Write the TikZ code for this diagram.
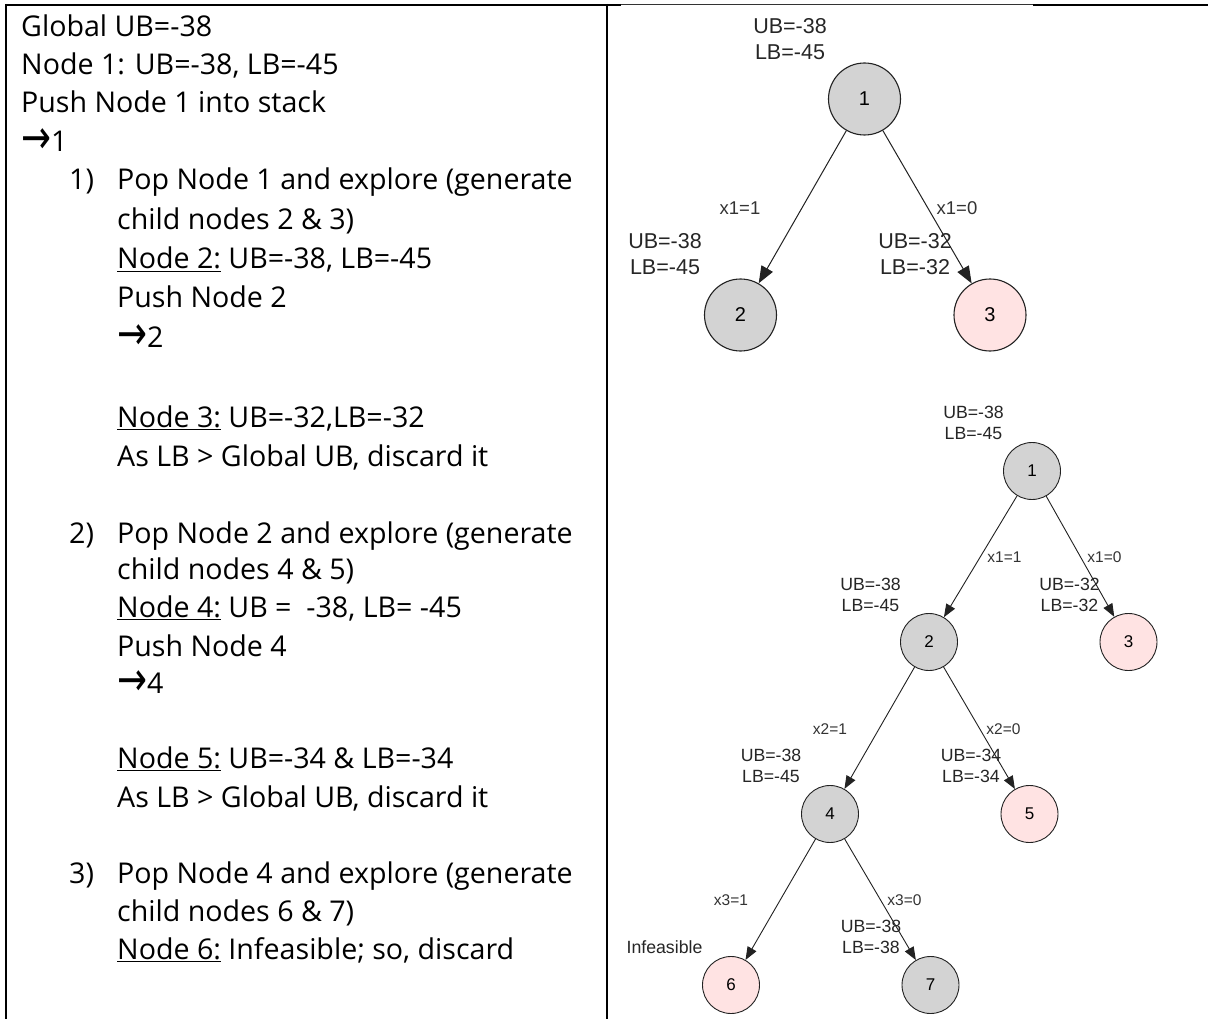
\documentclass[tikz,border=0pt]{standalone}
\usepackage{fontspec}
\setmainfont{Open Sans}
\newfontfamily\arialf{Liberation Sans}
\newfontfamily\symf{DejaVu Sans}
\usetikzlibrary{arrows.meta,shapes.geometric}
\newcommand\undl[1]{\underline{#1}}
\newcommand\arr{\smash{\raisebox{-2.5pt}{\scalebox{1.25}[1.65]{\symf →}}}}
\definecolor{nodegray}{HTML}{D3D3D3}
\definecolor{nodepink}{HTML}{FFE3E3}
\definecolor{edgecol}{HTML}{222222}
\begin{document}
\begin{tikzpicture}[x=1pt,y=-1pt,
  txt/.style={anchor=base west, inner sep=0pt, font=\fontsize{28.6}{34}\selectfont},
  bnode/.style={circle, draw=edgecol, line width=1.1pt, minimum size=72pt, inner sep=0pt, font=\arialf\fontsize{20}{24}\selectfont},
  snode/.style={circle, draw=edgecol, line width=0.9pt, minimum size=57pt, inner sep=0pt, font=\arialf\fontsize{17}{20}\selectfont},
  gray/.style={fill=nodegray},
  pink/.style={fill=nodepink},
  blab/.style={align=center, inner sep=0pt, text=black!85, font=\arialf\fontsize{21.5}{26}\selectfont},
  slab/.style={align=center, inner sep=0pt, text=black!85, font=\arialf\fontsize{17.7}{21}\selectfont},
  bedge/.style={inner sep=0pt, text=black!80, font=\arialf\fontsize{18.5}{22}\selectfont},
  sedge/.style={inner sep=0pt, text=black!80, font=\arialf\fontsize{15.5}{18}\selectfont},
  barrow/.style={draw=edgecol, line width=1pt, -{Triangle[length=17pt,width=13pt]}},
  sarrow/.style={draw=edgecol, line width=0.9pt, -{Triangle[length=13pt,width=10pt]}},
  rule/.style={line width=2pt, black}
]
\useasboundingbox (0,0) rectangle (1208,1019);
\fill[white] (0,0) rectangle (1208,1019);

% table rules
\draw[rule] (6,5) -- (621,5);
\draw[line width=1pt, black!80] (621,4.5) -- (1033,4.5);
\draw[rule] (1033,5) -- (1208,5);
\draw[rule] (6,4) -- (6,1019);
\draw[rule] (607,4) -- (607,1019);

% left column text
\node[txt] (t1) at (21,36.5) {Global UB=-38};
\node[txt] (t2) at (21,75) {Node 1: UB=-38, LB=-45};
\node[txt] (t3) at (21,113) {Push Node 1 into stack};
\node[txt] (t4) at (21,151.5) {\arr1};
\node[txt] (t5a) at (69,190) {1)};
\node[txt] (t5) at (117,190) {Pop Node 1 and explore (generate};
\node[txt] (t6) at (117,230) {child nodes 2 \& 3)};
\node[txt] (t7) at (117,269) {\undl{Node 2:} UB=-38, LB=-45};
\node[txt] (t8) at (117,308) {Push Node 2};
\node[txt] (t9) at (117,347) {\arr2};
\node[txt] (t10) at (117,427) {\undl{Node 3:} UB=-32,LB=-32};
\node[txt] (t11) at (117,466) {As LB > Global UB, discard it};
\node[txt] (t12a) at (69,543) {2)};
\node[txt] (t12) at (117,543) {Pop Node 2 and explore (generate};
\node[txt] (t13) at (117,579) {child nodes 4 \& 5)};
\node[txt] (t14) at (117,617) {\undl{Node 4:} UB =\ \ -38, LB= -45};
\node[txt] (t15) at (117,656) {Push Node 4};
\node[txt] (t16) at (117,693) {\arr4};
\node[txt] (t17) at (117,768) {\undl{Node 5:} UB=-34 \& LB=-34};
\node[txt] (t18) at (117,807) {As LB > Global UB, discard it};
\node[txt] (t19a) at (69,883) {3)};
\node[txt] (t19) at (117,883) {Pop Node 4 and explore (generate};
\node[txt] (t20) at (117,921) {child nodes 6 \& 7)};
\node[txt] (t21) at (117,959) {\undl{Node 6:} Infeasible; so, discard};

% first tree
\node[bnode, gray] (a1) at (864.5,99) {1};
\node[bnode, gray] (a2) at (740.5,315) {2};
\node[bnode, pink] (a3) at (990,315) {3};
\node[blab] (la1) at (790,39) {UB=-38\\LB=-45};
\node[blab] (la2) at (665,254) {UB=-38\\LB=-45};
\node[blab] (la3) at (915,254) {UB=-32\\LB=-32};
\draw[barrow] (a1) -- (a2);
\draw[barrow] (a1) -- (a3);
\node[bedge] (ea2) at (740,208) {x1=1};
\node[bedge] (ea3) at (957,208) {x1=0};

% second tree
\node[snode, gray] (b1) at (1032,471) {1};
\node[snode, gray] (b2) at (929,642) {2};
\node[snode, pink] (b3) at (1128.5,642) {3};
\node[snode, gray] (b4) at (830,814) {4};
\node[snode, pink] (b5) at (1029.5,814) {5};
\node[snode, pink] (b6) at (731,985) {6};
\node[snode, gray] (b7) at (930.5,985) {7};
\node[slab] (lb1) at (973.5,423) {UB=-38\\LB=-45};
\node[slab] (lb2) at (870.5,594.5) {UB=-38\\LB=-45};
\node[slab] (lb3) at (1069.5,594.5) {UB=-32\\LB=-32};
\node[slab] (lb4) at (771,765.5) {UB=-38\\LB=-45};
\node[slab] (lb5) at (971,765.5) {UB=-34\\LB=-34};
\node[slab] (lb7) at (871,937) {UB=-38\\LB=-38};
\node[slab] (lb6) at (664.5,947) {Infeasible};
\draw[sarrow] (b1) -- (b2);
\draw[sarrow] (b1) -- (b3);
\draw[sarrow] (b2) -- (b4);
\draw[sarrow] (b2) -- (b5);
\draw[sarrow] (b4) -- (b6);
\draw[sarrow] (b4) -- (b7);
\node[sedge] (eb2) at (1004.5,557) {x1=1};
\node[sedge] (eb3) at (1104.5,557) {x1=0};
\node[sedge] (eb4) at (830,729) {x2=1};
\node[sedge] (eb5) at (1003.5,729) {x2=0};
\node[sedge] (eb6) at (731,900) {x3=1};
\node[sedge] (eb7) at (904.5,900) {x3=0};
\end{tikzpicture}
\end{document}
